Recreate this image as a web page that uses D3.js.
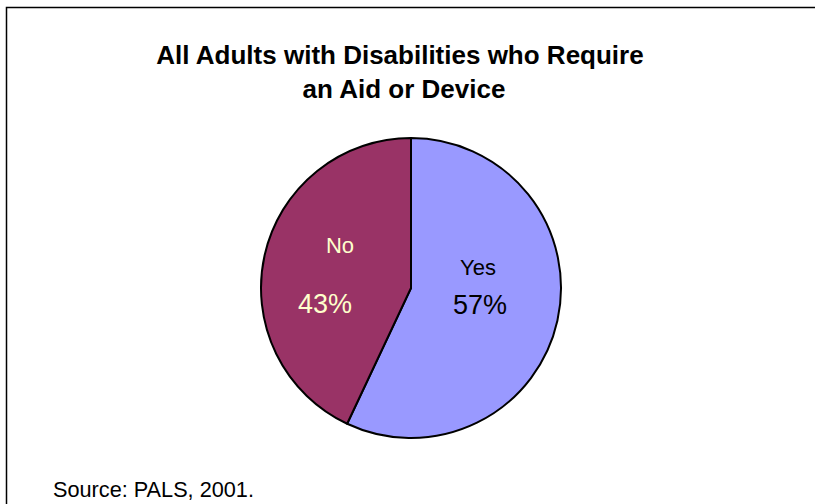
<!DOCTYPE html>
<html>
<head>
<meta charset="utf-8">
<script src="https://cdn.jsdelivr.net/npm/d3@7"></script>
<style>
  body { margin: 0; background: #fff; }
  text { font-family: "Liberation Sans", Arial, sans-serif; }
</style>
</head>
<body>
<div id="chart"></div>
<script>
// answers and their shares (percent)
var answers = ["Yes", "No"];
var shares = [57, 43];
var sliceColors = ["#9999ff", "#993366"];
var labelColors = ["#000000", "#ffffcc"];

var titleLines = ["All Adults with Disabilities who Require", "an Aid or Device"];
var sourceNote = "Source: PALS, 2001.";

var svgWidth = 815;
var svgHeight = 504;

var svg = d3.select("#chart").append("svg")
    .attr("width", svgWidth)
    .attr("height", svgHeight);

// chart frame (runs off the right and bottom)
svg.append("rect")
    .attr("x", 6.5)
    .attr("y", 7.5)
    .attr("width", svgWidth + 20)
    .attr("height", svgHeight + 20)
    .attr("fill", "white")
    .attr("stroke", "black")
    .attr("stroke-width", 1.5);

// title
svg.append("g").selectAll("text")
    .data(titleLines)
    .enter()
    .append("text")
    .attr("x", (d, i) => i === 0 ? 400 : 404)
    .attr("y", (d, i) => 64 + i * 34)
    .attr("text-anchor", "middle")
    .attr("font-size", "26px")
    .attr("font-weight", "bold")
    .text(d => d);

// pie
var cx = 411, cy = 288, radius = 150;

var pieData = answers.map((a, i) => ({ answer: a, share: shares[i], i: i }));

var pie = d3.pie()
    .sort(null)
    .value(d => d.share);

var arc = d3.arc()
    .innerRadius(0)
    .outerRadius(radius);

var pieGroup = svg.append("g")
    .attr("transform", `translate(${cx}, ${cy})`);

var arcs = pie(pieData);

pieGroup.selectAll("path")
    .data(arcs)
    .enter()
    .append("path")
    .attr("d", arc)
    .attr("fill", d => sliceColors[d.data.i])
    .attr("stroke", "black")
    .attr("stroke-width", 2)
    .attr("stroke-linejoin", "round");

// label positions inside each slice, relative to the centre
var labelSpots = [
    { name: [67, -13], pct: [69, 26] },
    { name: [-71, -35], pct: [-86, 25] }
];

arcs.forEach(function(d) {
    var spot = labelSpots[d.data.i];
    pieGroup.append("text")
        .attr("x", spot.name[0])
        .attr("y", spot.name[1])
        .attr("text-anchor", "middle")
        .attr("font-size", "22px")
        .attr("fill", labelColors[d.data.i])
        .text(d.data.answer);
    pieGroup.append("text")
        .attr("x", spot.pct[0])
        .attr("y", spot.pct[1])
        .attr("text-anchor", "middle")
        .attr("font-size", "27px")
        .attr("fill", labelColors[d.data.i])
        .text(d3.format(".0%")(d.data.share / 100));
});

// source note
svg.append("text")
    .attr("x", 53)
    .attr("y", 497)
    .attr("font-size", "21.7px")
    .text(sourceNote);
</script>
</body>
</html>
